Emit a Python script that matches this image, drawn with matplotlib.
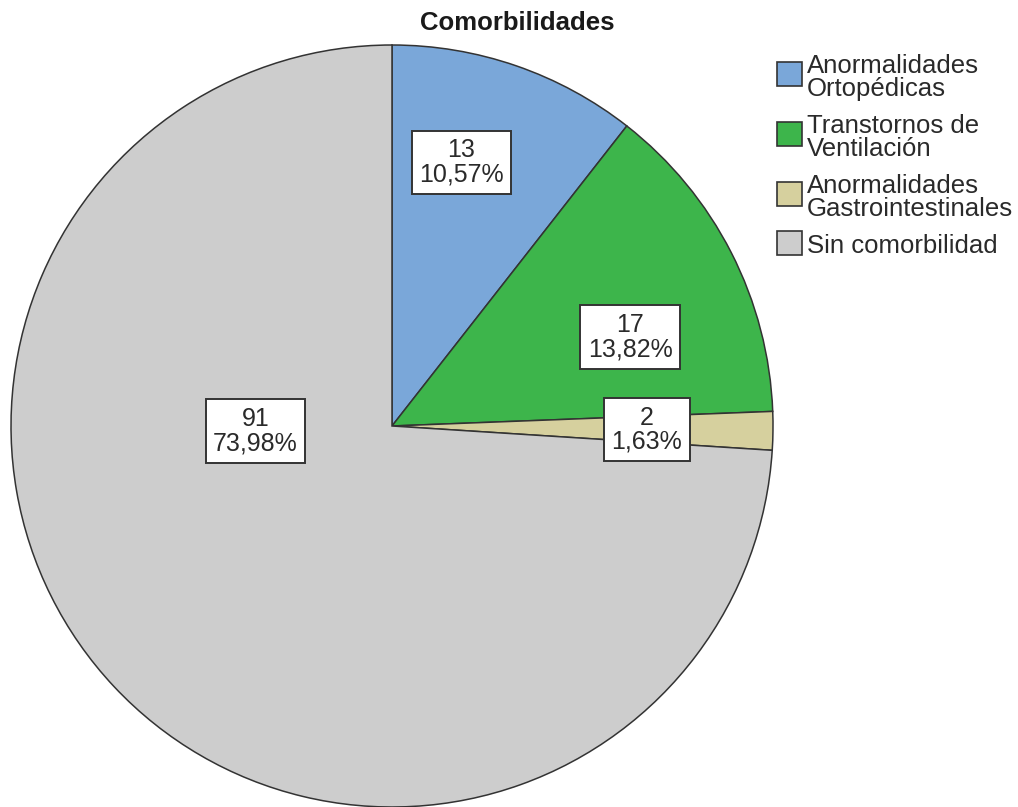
import matplotlib
matplotlib.use("Agg")
import matplotlib.pyplot as plt
from matplotlib.patches import Rectangle

# ---- data ----
categories = ["Anormalidades\nOrtopédicas", "Transtornos de\nVentilación",
              "Anormalidades\nGastrointestinales", "Sin comorbilidad"]
counts = [13, 17, 2, 91]
percent_labels = ["10,57%", "13,82%", "1,63%", "73,98%"]
colors = ["#7AA7D9", "#3DB54B", "#D6D09E", "#CDCDCD"]
title = "Comorbilidades"

# ---- layout ----
W, H = 1018, 807
fig = plt.figure(figsize=(W / 100, H / 100), dpi=100)
plt.rcParams['font.family'] = ['Liberation Sans', 'DejaVu Sans']

cx, cy, r = 392, 426, 381
ax = fig.add_axes([(cx - r) / W, (H - cy - r) / H, 2 * r / W, 2 * r / H])

wedges, _ = ax.pie(counts, colors=colors, startangle=90, counterclock=False,
                   radius=1, center=(0, 0),
                   wedgeprops=dict(edgecolor="#333333", linewidth=1.1))
ax.set_xlim(-1, 1)
ax.set_ylim(-1, 1)
ax.axis('off')

# label positions (relative to pie, radius units)
label_xy = [(0.182, 0.692), (0.625, 0.234), (0.669, -0.010), (-0.358, -0.013)]
for (lx, ly), n, p in zip(label_xy, counts, percent_labels):
    ax.text(lx, ly, f"{n}\n{p}", ha='center', va='center', fontsize=18,
            color='#2a2a2a', linespacing=1.02,
            bbox=dict(boxstyle='square,pad=0.3', facecolor='white',
                      edgecolor='#333333', linewidth=1.4))

def fx(x):
    return x / W

def fy(y):
    return 1 - y / H

fig.text(fx(517), fy(23), title, ha='center', va='center', fontsize=18.5,
         fontweight='bold', color='#1a1a1a')

# manual legend
base = 73
for i, (lab, col) in enumerate(zip(categories, colors)):
    lines = lab.split("\n")
    b0 = base + 60 * i
    for j, line in enumerate(lines):
        fig.text(fx(807), fy(b0 + 23 * j), line, ha='left', va='baseline',
                 fontsize=18.5, color='#2a2a2a')
    if len(lines) == 2:
        top = b0 - 11
    else:
        top = b0 - 22
    fig.patches.append(Rectangle((fx(777), fy(top + 24)), 25 / W, 24 / H,
                                 transform=fig.transFigure, facecolor=col,
                                 edgecolor='#333333', linewidth=1.2))

fig.savefig("out.png", dpi=100, facecolor='white')
